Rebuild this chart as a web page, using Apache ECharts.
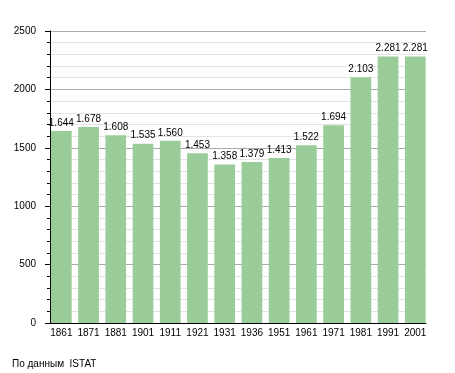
<!DOCTYPE html>
<html><head><meta charset="utf-8">
<script src="https://cdn.jsdelivr.net/npm/echarts@6/dist/echarts.min.js"></script>
<style>html,body{margin:0;padding:0;background:#fff}#c{width:455px;height:373px}</style>
</head><body><div id="c"></div>
<script>
const years = ['1861','1871','1881','1901','1911','1921','1931','1936','1951','1961','1971','1981','1991','2001'];
const population = [1644,1678,1608,1535,1560,1453,1358,1379,1413,1522,1694,2103,2281,2281];
const yTicks = [0,500,1000,1500,2000,2500];
const sourceText = 'По данным  ISTAT';

const font = 'Liberation Sans, Arial, sans-serif';
const chart = echarts.init(document.getElementById('c'), null, {renderer:'canvas'});
chart.setOption({
  animation:false,
  backgroundColor:'#fff',
  grid:[
    {left:50, right:29, top:31, bottom:50},
    {left:47.7, width:381.2, top:31, bottom:50}
  ],
  xAxis:[
    {gridIndex:0, type:'category', data:years, boundaryGap:true,
     axisLine:{lineStyle:{color:'#000', width:1}}, axisTick:{show:false}, axisLabel:{show:false}, splitLine:{show:false}},
    {gridIndex:1, type:'category', data:years,
     axisLine:{show:false}, axisTick:{show:false},
     axisLabel:{color:'#000', fontSize:10, fontFamily:font, margin:5, interval:0}}
  ],
  yAxis:[
    {gridIndex:0, type:'value', min:yTicks[0], max:yTicks[yTicks.length-1], interval:500,
     axisLine:{show:true, lineStyle:{color:'#000'}},
     axisTick:{show:true, length:5, lineStyle:{color:'#000'}},
     minorTick:{show:true, splitNumber:5, length:3, lineStyle:{color:'#000'}},
     axisLabel:{color:'#000', fontSize:10, fontFamily:font, margin:14, formatter:v=>String(v)},
     splitLine:{show:true, lineStyle:{color:'#aaa', width:1}},
     minorSplitLine:{show:true, lineStyle:{color:'#e3e3e3', width:1}}},
    {gridIndex:1, type:'value', min:0, max:2500, show:false, splitLine:{show:false}}
  ],
  series:[{
    type:'bar', xAxisIndex:1, yAxisIndex:1, data:population,
    barWidth:20.7,
    itemStyle:{color:'#99cc99'},
    label:{show:true, position:'top', distance:3, color:'#000', fontSize:10, fontFamily:font,
      formatter:p=>{const v=String(p.value);return v.length>3?v.slice(0,v.length-3)+'.'+v.slice(-3):v;}}
  }],
  graphic:[{type:'text', left:12, top:359, style:{text:sourceText, fontSize:10, fontFamily:font, fill:'#000'}}]
});
</script></body></html>
